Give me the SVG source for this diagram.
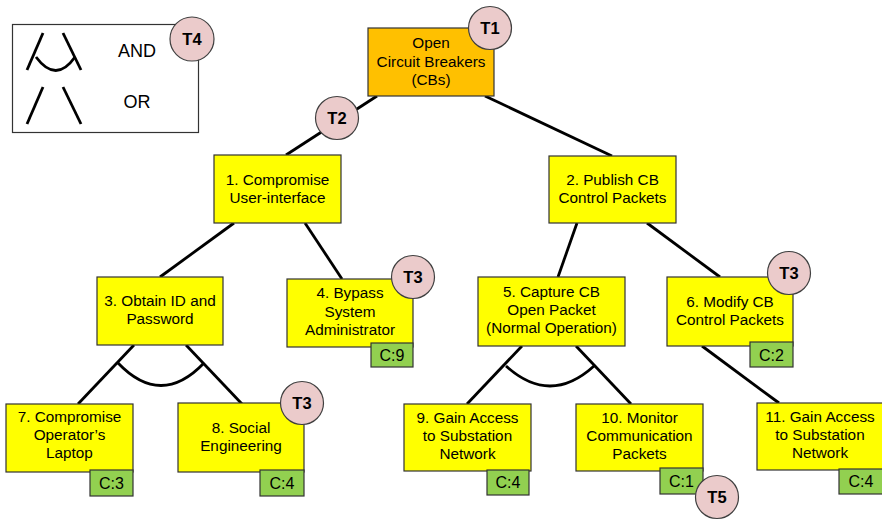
<svg xmlns="http://www.w3.org/2000/svg" width="882" height="520" viewBox="0 0 882 520">
  <style>
    .node { fill: #FFFF00; stroke: #333333; stroke-width: 1.2; }
    .root { fill: #FFC000; stroke: #333333; stroke-width: 1.2; }
    .cost { fill: #92D050; stroke: #333333; stroke-width: 1.2; }
    .tag { fill: #EBCBCB; stroke: #404040; stroke-width: 1.2; }
    .lbl { font-family: "Liberation Sans", Arial, sans-serif; font-size: 15.3px; fill: #000; text-anchor: middle; }
    .clbl { font-family: "Liberation Sans", Arial, sans-serif; font-size: 16px; fill: #000; text-anchor: middle; }
    .tlbl { font-family: "Liberation Sans", Arial, sans-serif; font-size: 16.5px; font-weight: bold; fill: #000; text-anchor: middle; }
    .leg { font-family: "Liberation Sans", Arial, sans-serif; font-size: 18px; fill: #000; text-anchor: middle; }
    .edge { stroke: #000; stroke-width: 2.8; fill: none; stroke-linecap: butt; }
  </style>

  <!-- legend -->
  <g id="legend">
    <rect x="12.5" y="24.5" width="186" height="108" fill="#FFFFFF" stroke="#333333" stroke-width="1.2"/>
    <line class="edge" x1="43" y1="33" x2="27" y2="70"/>
    <line class="edge" x1="63" y1="33" x2="81" y2="70"/>
    <path class="edge" d="M36,57 Q56,84 75,57"/>
    <text class="leg" x="137" y="57">AND</text>
    <line class="edge" x1="43" y1="87" x2="27" y2="124"/>
    <line class="edge" x1="63" y1="87" x2="81" y2="124"/>
    <text class="leg" x="137" y="108">OR</text>
  </g>

  <!-- connectors -->
  <g id="connectors">
    <line class="edge" x1="377" y1="96" x2="286" y2="155"/>
    <line class="edge" x1="485" y1="96" x2="612" y2="156"/>
    <line class="edge" x1="234" y1="223" x2="160" y2="277"/>
    <line class="edge" x1="305" y1="223" x2="342" y2="279"/>
    <line class="edge" x1="577" y1="223" x2="558" y2="277"/>
    <line class="edge" x1="647" y1="223" x2="720" y2="277"/>
    <line class="edge" x1="134" y1="345" x2="78" y2="404"/>
    <line class="edge" x1="186" y1="345" x2="242" y2="404"/>
    <path class="edge" d="M118,363 Q161,408 204,363"/>
    <line class="edge" x1="522" y1="346" x2="467" y2="404"/>
    <line class="edge" x1="576" y1="346" x2="631" y2="404"/>
    <path class="edge" d="M506,366 Q550,406 594,366"/>
    <line class="edge" x1="702" y1="346" x2="779" y2="403"/>
  </g>

  <g id="n0">
    <rect class="root" x="368" y="28" width="126" height="68"/>
    <text class="lbl" x="431" y="48">Open</text>
    <text class="lbl" x="431" y="67">Circuit Breakers</text>
    <text class="lbl" x="431" y="85">(CBs)</text>
  </g>

  <g id="n1">
    <rect class="node" x="214" y="155" width="127" height="68"/>
    <text class="lbl" x="277.5" y="185">1. Compromise</text>
    <text class="lbl" x="277.5" y="203">User-interface</text>
  </g>

  <g id="n2">
    <rect class="node" x="549" y="156" width="127" height="67"/>
    <text class="lbl" x="612.5" y="185">2. Publish CB</text>
    <text class="lbl" x="612.5" y="203">Control Packets</text>
  </g>

  <g id="n3">
    <rect class="node" x="97" y="277" width="126" height="68"/>
    <text class="lbl" x="160" y="306">3. Obtain ID and</text>
    <text class="lbl" x="160" y="324">Password</text>
  </g>

  <g id="n4">
    <rect class="node" x="287" y="279" width="126" height="68"/>
    <text class="lbl" x="350" y="298">4. Bypass</text>
    <text class="lbl" x="350" y="317">System</text>
    <text class="lbl" x="350" y="335">Administrator</text>
    <rect class="cost" x="371" y="343" width="42" height="24"/>
    <text class="clbl" x="392" y="361">C:9</text>
  </g>

  <g id="n5">
    <rect class="node" x="478" y="277" width="147" height="69"/>
    <text class="lbl" x="551.5" y="297">5. Capture CB</text>
    <text class="lbl" x="551.5" y="315">Open Packet</text>
    <text class="lbl" x="551.5" y="333">(Normal Operation)</text>
  </g>

  <g id="n6">
    <rect class="node" x="667" y="277" width="126" height="69"/>
    <text class="lbl" x="730" y="307">6. Modify CB</text>
    <text class="lbl" x="730" y="325">Control Packets</text>
    <rect class="cost" x="750" y="342" width="43" height="25"/>
    <text class="clbl" x="771.5" y="361">C:2</text>
  </g>

  <g id="n7">
    <rect class="node" x="6" y="404" width="127" height="68"/>
    <text class="lbl" x="69.5" y="422">7. Compromise</text>
    <text class="lbl" x="69.5" y="440">Operator’s</text>
    <text class="lbl" x="69.5" y="458">Laptop</text>
    <rect class="cost" x="90" y="470" width="43" height="26"/>
    <text class="clbl" x="111.5" y="489">C:3</text>
  </g>

  <g id="n8">
    <rect class="node" x="178" y="403" width="126" height="69"/>
    <text class="lbl" x="241" y="433">8. Social</text>
    <text class="lbl" x="241" y="451">Engineering</text>
    <rect class="cost" x="260" y="470" width="44" height="26"/>
    <text class="clbl" x="282" y="489">C:4</text>
  </g>

  <g id="n9">
    <rect class="node" x="404" y="404" width="127" height="67"/>
    <text class="lbl" x="467.5" y="423">9. Gain Access</text>
    <text class="lbl" x="467.5" y="441">to Substation</text>
    <text class="lbl" x="467.5" y="459">Network</text>
    <rect class="cost" x="487" y="470" width="42" height="25"/>
    <text class="clbl" x="508" y="488">C:4</text>
  </g>

  <g id="n10">
    <rect class="node" x="576" y="404" width="127" height="67"/>
    <text class="lbl" x="639.5" y="423">10. Monitor</text>
    <text class="lbl" x="639.5" y="441">Communication</text>
    <text class="lbl" x="639.5" y="459">Packets</text>
    <rect class="cost" x="660" y="468" width="43" height="26"/>
    <text class="clbl" x="681.5" y="487">C:1</text>
  </g>

  <g id="n11">
    <rect class="node" x="757" y="403" width="127" height="67"/>
    <text class="lbl" x="820" y="422">11. Gain Access</text>
    <text class="lbl" x="820" y="440">to Substation</text>
    <text class="lbl" x="820" y="458">Network</text>
    <rect class="cost" x="839" y="469" width="45" height="25"/>
    <text class="clbl" x="861" y="487">C:4</text>
  </g>

  <!-- threat markers -->
  <g id="t1"><circle class="tag" cx="490" cy="28" r="21.5"/><text class="tlbl" x="490" y="34">T1</text></g>
  <g id="t2"><circle class="tag" cx="337" cy="118" r="21.5"/><text class="tlbl" x="337" y="124">T2</text></g>
  <g id="t4"><circle class="tag" cx="192" cy="39" r="22"/><text class="tlbl" x="192" y="45">T4</text></g>
  <g id="t3a"><circle class="tag" cx="413" cy="277" r="21.5"/><text class="tlbl" x="413" y="283">T3</text></g>
  <g id="t3b"><circle class="tag" cx="789" cy="273" r="21.5"/><text class="tlbl" x="789" y="279">T3</text></g>
  <g id="t3c"><circle class="tag" cx="302" cy="403" r="21.5"/><text class="tlbl" x="302" y="409">T3</text></g>
  <g id="t5"><circle class="tag" cx="717" cy="497" r="21.5"/><text class="tlbl" x="717" y="503">T5</text></g>
</svg>
